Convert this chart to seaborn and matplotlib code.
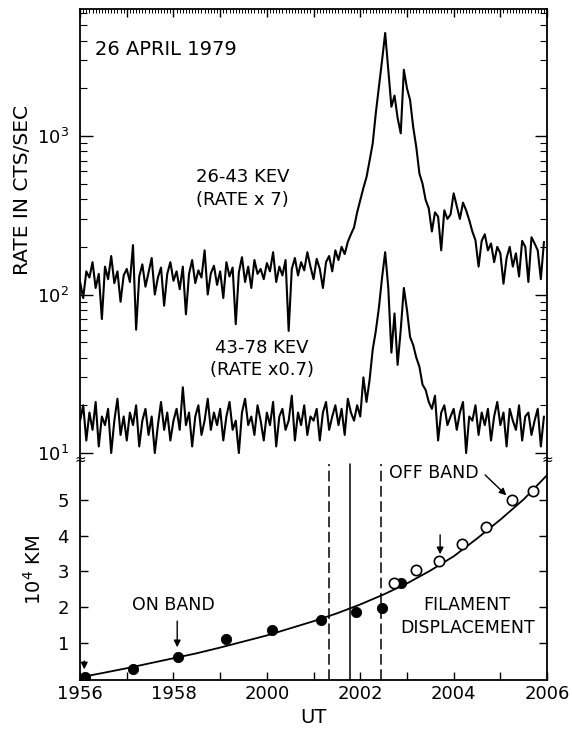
import numpy as np
import pandas as pd
import seaborn as sns
import matplotlib
matplotlib.use("Agg")
import matplotlib.pyplot as plt
from matplotlib.ticker import MultipleLocator, LogLocator, NullFormatter, FixedLocator

# time axis: minutes after 19:56 UT, one sample every 4 s
sample_step = 1 / 15
ut_ticks = [0, 2, 4, 6, 8, 10]
ut_labels = ["1956", "1958", "2000", "2002", "2004", "2006"]

# 26-43 keV count rate (x7), cts/sec
rate_26_43 = [
    120, 95, 140, 128, 160, 110, 135, 70, 150, 125, 175, 118, 140, 90, 132,
    145, 120, 205, 60, 130, 155, 112, 138, 170, 100, 128, 148, 85, 135, 160,
    122, 140, 108, 150, 75, 135, 165, 118, 142, 128, 190, 100, 136, 152, 115,
    140, 95, 160, 130, 148, 65, 138, 172, 120, 150, 110, 165, 135, 145, 125,
    158, 140, 185, 120, 150, 132, 165, 59, 145, 170, 132, 160, 142, 185, 150,
    125, 168, 145, 110, 160, 175, 140, 190, 165, 200, 180, 215, 240, 265, 330,
    395, 470, 550, 700, 900, 1400, 2040, 3000, 4470, 2600, 1530, 1800, 1300, 1040, 2620,
    2000, 1690, 1140, 850, 580, 500, 395, 350, 250, 330, 310, 190, 340, 300, 320,
    435, 360, 300, 380, 340, 295, 250, 220, 150, 218, 240, 190, 210, 160, 200,
    182, 117, 170, 200, 150, 182, 130, 218, 200, 120, 230, 210, 190, 125, 215,
]

# 43-78 keV count rate (x0.7), cts/sec
rate_43_78 = [
    16, 20, 12, 18, 14, 21, 11, 17, 15, 19, 10, 16, 22, 13, 17,
    12, 18, 15, 20, 11, 16, 19, 13, 17, 10, 15, 21, 14, 18, 12,
    16, 19, 14, 26, 15, 18, 11, 17, 20, 13, 16, 22, 14, 18, 15,
    19, 12, 17, 21, 14, 16, 10, 18, 22, 15, 17, 13, 20, 16, 12,
    18, 15, 21, 11, 17, 19, 14, 16, 23, 12, 18, 15, 20, 13, 17,
    16, 19, 12, 18, 21, 14, 17, 20, 15, 19, 13, 22, 18, 16, 20,
    17, 30, 21, 29, 45, 59, 83, 128, 185, 110, 43, 76, 36, 60, 110,
    80, 54, 48, 40, 35, 27, 25, 21, 19, 23, 12, 18, 20, 15, 17,
    19, 14, 18, 21, 10, 17, 16, 20, 13, 18, 15, 19, 12, 17, 21,
    15, 18, 11, 19, 16, 14, 20, 12, 17, 18, 13, 16, 19, 11, 17,
]

# filament displacement, 10^4 km
on_band_t = [0.1, 1.13, 2.1, 3.12, 4.12, 5.15, 5.9, 6.47, 6.88]
on_band_km = [0.02, 0.25, 0.59, 1.1, 1.35, 1.63, 1.85, 1.96, 2.67]
off_band_t = [6.73, 7.2, 7.69, 8.18, 8.7, 9.25, 9.7]
off_band_km = [2.67, 3.03, 3.29, 3.76, 4.24, 5.0, 5.25]
fit_t = [0.1, 0.5, 1.0, 1.5, 2.0, 2.5, 3.0, 3.5, 4.0, 4.5, 5.0,
         5.5, 6.0, 6.5, 7.0, 7.5, 8.0, 8.5, 9.0, 9.5, 10.0]
fit_km = [0.05, 0.15, 0.28, 0.42, 0.56, 0.70, 0.86, 1.03, 1.20, 1.40, 1.60,
          1.82, 2.07, 2.35, 2.66, 3.02, 3.42, 3.92, 4.45, 5.02, 5.70]

# timing marks (minutes after 19:56)
dashed_marks = [5.34, 6.45]
solid_marks = [5.77]

sns.set_style("ticks")
plt.rcParams["font.family"] = ["DejaVu Sans"]
plt.rcParams["font.size"] = 12
for key in ["text.color", "axes.labelcolor", "xtick.color", "ytick.color",
            "axes.edgecolor"]:
    plt.rcParams[key] = "black"

fig = plt.figure(figsize=(5.72, 7.34), dpi=100)
ax1 = fig.add_axes([0.14, 0.376, 0.8164, 0.612])
ax2 = fig.add_axes([0.14, 0.0736, 0.8164, 0.3024])

t = np.arange(len(rate_26_43)) * sample_step
df = pd.DataFrame({"t": np.concatenate([t, t]),
                   "rate": rate_26_43 + rate_43_78,
                   "band": ["26-43"] * len(t) + ["43-78"] * len(t)})

sns.lineplot(data=df, x="t", y="rate", units="band", estimator=None,
             color="black", lw=1.5, ax=ax1)
ax1.set_yscale("log")
ax1.set_xlim(0, 10)
ax1.set_ylim(9.3, 6350)
ax1.set_xlabel("")
ax1.set_ylabel("")
ax1.spines["bottom"].set_visible(False)
ax1.xaxis.set_major_locator(MultipleLocator(1))
ax1.xaxis.set_minor_locator(MultipleLocator(sample_step))
ax1.tick_params(axis="x", which="both", bottom=False, top=True, labelbottom=False,
                direction="in")
ax1.tick_params(axis="x", which="major", length=6, width=1)
ax1.tick_params(axis="x", which="minor", length=3, width=0.7)
ax1.yaxis.set_major_locator(LogLocator(base=10, numticks=10))
ax1.yaxis.set_minor_locator(LogLocator(base=10, subs=np.arange(2, 10), numticks=10))
ax1.yaxis.set_minor_formatter(NullFormatter())
ax1.tick_params(axis="y", which="both", left=True, right=True, direction="in")
ax1.tick_params(axis="y", which="major", length=9, width=1, labelsize=13, pad=8)
ax1.tick_params(axis="y", which="minor", length=5, width=0.8)
for s in ["left", "right", "top"]:
    ax1.spines[s].set_linewidth(1.3)

ax1.text(0.32, 3500, "26 APRIL 1979", fontsize=14, va="center")
ax1.text(3.48, 550, "26-43 KEV", fontsize=13, ha="center", va="center")
ax1.text(3.48, 393, "(RATE x 7)", fontsize=13, ha="center", va="center")
ax1.text(3.9, 46, "43-78 KEV", fontsize=13, ha="center", va="center")
ax1.text(3.9, 33.5, "(RATE x0.7)", fontsize=13, ha="center", va="center")
ax1.text(-0.124, 0.597, "RATE IN CTS/SEC", transform=ax1.transAxes, rotation=90,
         fontsize=14.5, ha="center", va="center")

# lower panel: filament displacement
sns.lineplot(x=fit_t, y=fit_km, color="black", lw=1.3, ax=ax2)
sns.scatterplot(x=on_band_t, y=on_band_km, color="black", s=55,
                edgecolor="black", ax=ax2, zorder=3)
sns.scatterplot(x=off_band_t, y=off_band_km, color="white", s=55,
                edgecolor="black", linewidth=1.2, ax=ax2, zorder=3)
for m in dashed_marks:
    ax2.axvline(m, ymin=0, ymax=0.975, color="black", lw=1.1, ls=(0, (7, 3)))
for m in solid_marks:
    ax2.axvline(m, ymin=0, ymax=0.975, color="black", lw=1.1)

ax2.set_xlim(0, 10)
ax2.set_ylim(-0.05, 6.18)
ax2.spines["top"].set_visible(False)
ax2.xaxis.set_major_locator(FixedLocator(ut_ticks))
ax2.set_xticklabels(ut_labels)
ax2.xaxis.set_minor_locator(MultipleLocator(1))
ax2.yaxis.set_major_locator(FixedLocator([1, 2, 3, 4, 5]))
ax2.tick_params(axis="x", which="both", direction="in", length=6, width=1, labelsize=13)
ax2.tick_params(axis="y", which="both", direction="in", left=True, right=True,
                length=6, width=1, labelsize=13, pad=8)
for s in ["left", "right", "bottom"]:
    ax2.spines[s].set_linewidth(1.3)
ax2.set_xlabel("UT", fontsize=14)
ax2.set_ylabel("")
ax2.text(-0.10, 0.495, "10$^4$ KM", transform=ax2.transAxes, rotation=90,
         fontsize=14, ha="center", va="center")

arrow = dict(arrowstyle="-|>", color="black", lw=1.0, mutation_scale=10)
ax2.annotate("", xy=(0.09, 0.17), xytext=(0.09, 0.56), arrowprops=arrow)
ax2.text(2.0, 2.05, "ON BAND", fontsize=12.5, ha="center", va="center")
ax2.annotate("", xy=(2.08, 0.79), xytext=(2.08, 1.68), arrowprops=arrow)
ax2.annotate("", xy=(7.71, 3.4), xytext=(7.71, 4.1), arrowprops=arrow)
ax2.text(6.62, 5.76, "OFF BAND", fontsize=12.5, va="center")
ax2.annotate("", xy=(9.17, 5.08), xytext=(8.63, 5.76), arrowprops=arrow)
ax2.text(8.29, 2.05, "FILAMENT", fontsize=12.5, ha="center", va="center")
ax2.text(8.29, 1.4, "DISPLACEMENT", fontsize=12.5, ha="center", va="center")

# axis break marks
for xb in [0.14, 0.9564]:
    fig.text(xb, 0.374, "≈", fontsize=10, ha="center", va="center")

fig.savefig("out.png", dpi=100)
